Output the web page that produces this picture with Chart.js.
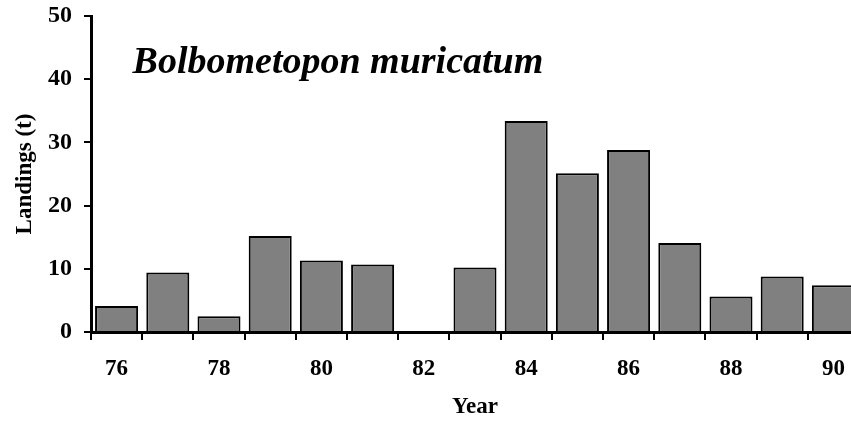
<!DOCTYPE html>
<html>
<head>
<meta charset="utf-8">
<script src="https://cdn.jsdelivr.net/npm/chart.js@4/dist/chart.umd.min.js"></script>
<style>
  html, body { margin: 0; padding: 0; background: #fff; overflow: hidden; }
  #wrap { width: 851px; height: 421px; overflow: hidden; }
</style>
</head>
<body>
<div id="wrap"><canvas id="chart" width="860" height="421"></canvas></div>
<script>
// data
const years = ["76", "77", "78", "79", "80", "81", "82", "83", "84", "85", "86", "87", "88", "89", "90"];
const landings = [4.1, 9.4, 2.5, 15.2, 11.3, 10.7, 0, 10.2, 33.4, 25.1, 28.8, 14.1, 5.6, 8.8, 7.4];
const yTicks = [0, 10, 20, 30, 40, 50];
const speciesName = "Bolbometopon muricatum";

const serif = "'Liberation Serif', 'Times New Roman', serif";

// species name written inside the plot area
const speciesLabel = {
  id: "speciesLabel",
  afterDraw(chart) {
    const { ctx, scales } = chart;
    const x = scales.x.getPixelForValue(0) + 16;
    const y = scales.y.getPixelForValue(42.6);
    ctx.save();
    ctx.font = "italic bold 38px " + serif;
    ctx.fillStyle = "#000";
    ctx.textBaseline = "middle";
    ctx.textAlign = "left";
    ctx.fillText(speciesName, x, y);
    ctx.restore();
  }
};

new Chart(document.getElementById("chart"), {
  type: "bar",
  data: {
    labels: years,
    datasets: [{
      data: landings,
      backgroundColor: "#808080",
      borderColor: "#000",
      borderWidth: 2,
      barPercentage: 0.84,
      categoryPercentage: 1.0
    }]
  },
  options: {
    responsive: false,
    animation: false,
    layout: { padding: { top: 16, right: 1, left: 0, bottom: 0 } },
    plugins: { legend: { display: false }, tooltip: { enabled: false } },
    scales: {
      x: {
        grid: { offset: true, drawOnChartArea: false, color: "#000", lineWidth: 2, tickLength: 8 },
        border: { color: "#000", width: 3 },
        ticks: {
          color: "#000",
          font: { family: serif, size: 23, weight: "bold" },
          maxRotation: 0,
          autoSkip: false,
          padding: 15,
          callback: (v, i) => (i % 2 === 0 ? years[i] : "")
        },
        title: {
          display: true,
          text: "Year",
          color: "#000",
          font: { family: serif, size: 23, weight: "bold" },
          padding: { top: 8, bottom: 0 }
        },
        afterFit: (s) => { s.height = 89; }
      },
      y: {
        min: 0,
        max: 50,
        afterBuildTicks: (s) => { s.ticks = yTicks.map(v => ({ value: v })); },
        grid: { drawOnChartArea: false, color: "#000", lineWidth: 2, tickLength: 7 },
        border: { color: "#000", width: 3 },
        ticks: {
          color: "#000",
          font: { family: serif, size: 24, weight: "bold" },
          padding: 12
        },
        title: {
          display: true,
          text: "Landings (t)",
          color: "#000",
          font: { family: serif, size: 23, weight: "bold" },
          padding: { top: 11, bottom: 0 }
        },
        afterFit: (s) => { s.width = 91; s.paddingTop = 0; s.paddingBottom = 0; }
      }
    }
  },
  plugins: [speciesLabel]
});
</script>
</body>
</html>
